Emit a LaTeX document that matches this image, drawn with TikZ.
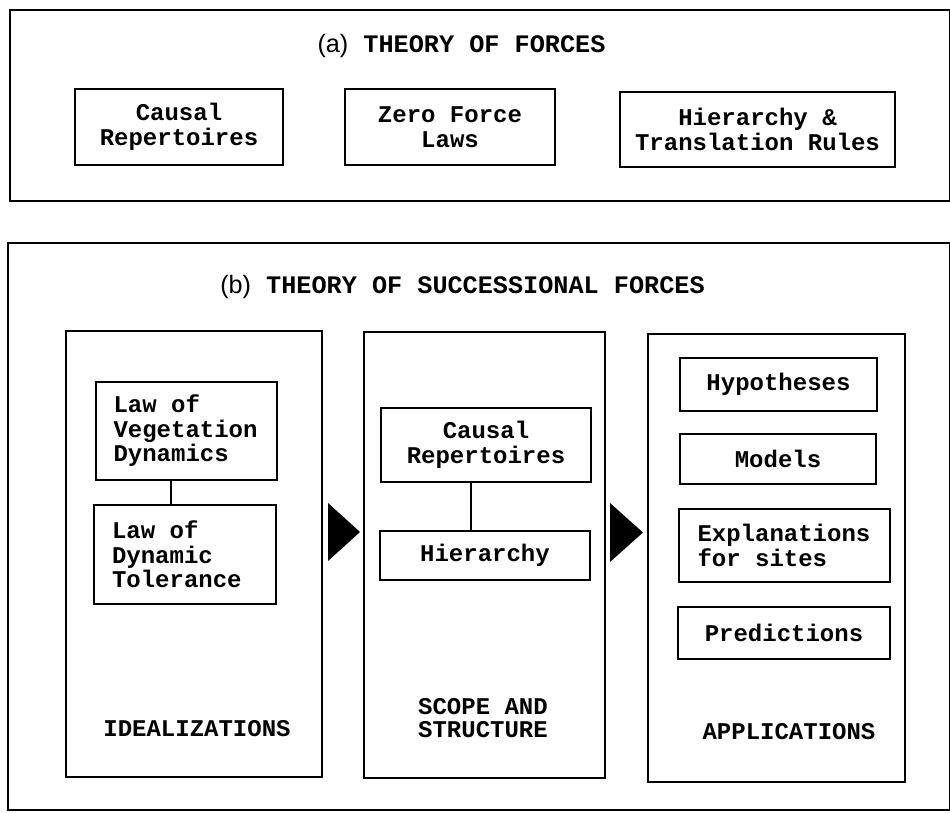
\documentclass[tikz,border=0pt]{standalone}
\usepackage{fontspec}
\setmonofont{Liberation Mono}[WordSpace={1,0,0}]
\newfontfamily\figsans{Liberation Sans}
\usetikzlibrary{positioning}
\newcommand\monogap{\spaceskip=0.6em\relax}
\tikzset{
  frame/.style={
    draw, rectangle, line width=2.2pt, inner sep=0pt
  },
  panel/.style={
    draw, rectangle, line width=1.7pt, inner sep=0pt
  },
  box/.style={
    draw, rectangle, align=center, line width=1.5pt, inner sep=0pt,
    font=\ttfamily\bfseries\fontsize{24}{24.5}\selectfont
  },
  lbox/.style={
    box, align=left
  },
  head/.style={
    inner sep=0pt, font=\ttfamily\bfseries\fontsize{25.2}{26}\selectfont
  },
  tag/.style={
    inner sep=0pt, align=center, font=\ttfamily\bfseries\fontsize{24}{23}\selectfont
  },
}
\begin{document}
\begin{tikzpicture}[x=1pt, y=-1pt]
  \useasboundingbox (0,0) rectangle (950,813);
  % (a) theory of forces
  \node[frame, minimum width=940pt, minimum height=191pt] (forces) at (480,105.5) {};
  \node[head] (ta) at (461.5,46) {{\figsans\mdseries (a)}~THEORY OF FORCES};
  \node[box, minimum width=208pt, minimum height=76pt] (rep) at (179,127) {Causal\\Repertoires};
  \node[box, minimum width=210pt, minimum height=76pt] (zero) at (450,127) {Zero Force\\Laws};
  \node[box, minimum width=275pt, minimum height=75pt] (rules) at (757.5,129.5) {Hierarchy \&\\Translation Rules};
  % (b) theory of successional forces
  \node[frame, minimum width=942pt, minimum height=567pt] (succ) at (479,526.5) {};
  \node[head] (tb) at (462.5,287) {{\figsans\mdseries (b)}~THEORY OF SUCCESSIONAL FORCES};
  \node[panel, minimum width=256pt, minimum height=446pt] (ideal) at (194,554) {};
  \node[panel, minimum width=241pt, minimum height=446pt] (scope) at (484.5,555) {};
  \node[panel, minimum width=257pt, minimum height=448pt] (appl) at (776.5,558) {};
  % idealizations
  \node[lbox, minimum width=181pt, minimum height=98pt, text width=146pt] (lvd) at (186.5,431) {\monogap Law of\\Vegetation\\Dynamics};
  \node[lbox, minimum width=182pt, minimum height=99pt, text width=146pt] (ldt) at (185,554.5) {\monogap Law of\\Dynamic\\Tolerance};
  \coordinate (v1) at ([xshift=-15.5pt]lvd.south);
  \draw[line width=1.5pt] (v1) -- (v1 |- ldt.north);
  \node[tag] (li) at (197,729) {IDEALIZATIONS};
  % scope and structure
  \node[box, minimum width=210pt, minimum height=74pt] (crb) at (486,445) {Causal\\Repertoires};
  \node[box, minimum width=210pt, minimum height=49pt] (hier) at (485,555.5) {Hierarchy};
  \coordinate (v2) at ([xshift=-15pt]crb.south);
  \draw[line width=1.5pt] (v2) -- (v2 |- hier.north);
  \node[tag] (ls) at (483,718.5) {SCOPE AND\\STRUCTURE};
  % applications
  \node[box, minimum width=197pt, minimum height=53pt] (hyp) at (778.5,384.5) {Hypotheses};
  \node[box, minimum width=196pt, minimum height=50pt] (mod) at (778,459) {Models};
  \node[lbox, minimum width=211pt, minimum height=73pt, text width=174pt] (expl) at (784.5,545.5) {\monogap Explanations\\for sites};
  \node[box, minimum width=212pt, minimum height=52pt] (pred) at (784,633) {Predictions};
  \node[tag] (la) at (789,732) {APPLICATIONS};
  % flow between panels
  \fill (328,503) -- (360,532) -- (328,561) -- cycle;
  \fill (610,503) -- (643,532.5) -- (610,562) -- cycle;
\end{tikzpicture}
\end{document}
